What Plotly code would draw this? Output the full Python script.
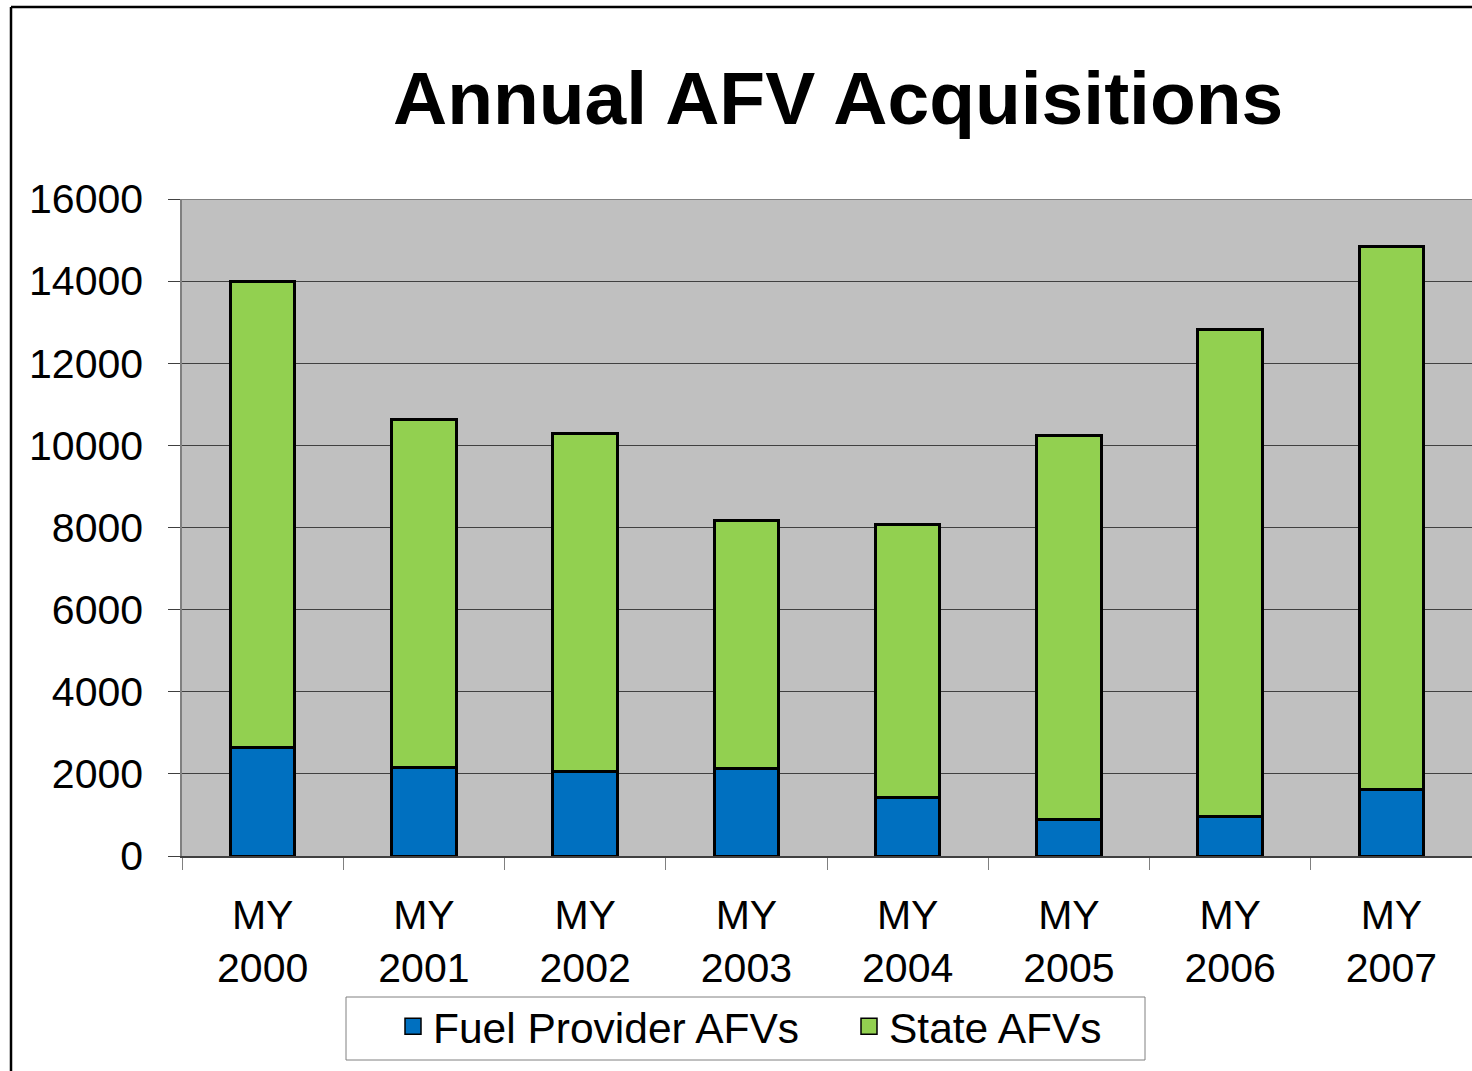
import plotly.graph_objects as go

categories = ["MY<br>2000", "MY<br>2001", "MY<br>2002", "MY<br>2003",
              "MY<br>2004", "MY<br>2005", "MY<br>2006", "MY<br>2007"]
fuel_provider = [2650, 2165, 2070, 2120, 1430, 890, 965, 1620]
state_afvs = [11340, 8455, 8220, 6060, 6650, 9340, 11845, 13220]
y_ticks = [0, 2000, 4000, 6000, 8000, 10000, 12000, 14000, 16000]

FONT = "Liberation Sans, Arial, sans-serif"
BLUE = "#0070C0"
GREEN = "#92D050"

fig = go.Figure()
fig.add_trace(go.Bar(x=categories, y=fuel_provider, name="Fuel Provider AFVs",
                     marker=dict(color=BLUE, line=dict(color="black", width=3)),
                     width=0.4, showlegend=False))
fig.add_trace(go.Bar(x=categories, y=state_afvs, name="State AFVs",
                     marker=dict(color=GREEN, line=dict(color="black", width=3)),
                     width=0.4, showlegend=False))
# legend entries with larger square symbols
for nm, col in [("Fuel Provider AFVs", BLUE), ("State AFVs", GREEN)]:
    fig.add_trace(go.Scatter(x=[None], y=[None], mode="markers", name=nm,
                             marker=dict(symbol="square", size=16, color=col,
                                         line=dict(color="black", width=1.5))))

W, H = 1472, 1071
L, R, T, B = 182, 0, 199, 215
pw = W - L - R
ph = H - T - B

def px_x(x):
    return (x - L) / pw

def px_y(y):
    return (H - B - y) / ph

fig.update_layout(
    barmode="stack",
    width=W, height=H,
    margin=dict(l=L, r=R, t=T, b=B, pad=0),
    paper_bgcolor="white",
    plot_bgcolor="#C0C0C0",
    font=dict(family=FONT, color="black"),
    showlegend=True,
    legend=dict(orientation="h", x=px_x(393), xanchor="left", y=px_y(992), yanchor="top",
                font=dict(size=42.5, family=FONT), bgcolor="rgba(0,0,0,0)",
                borderwidth=0, traceorder="normal", itemwidth=30,
                entrywidth=411, entrywidthmode="pixels"),
    xaxis=dict(type="category", tickson="boundaries", ticks="outside", ticklen=12,
               tickcolor="#808080", tickwidth=1, showline=True, linecolor="#404040",
               linewidth=1.5, tickfont=dict(size=41, family=FONT), showgrid=False,
               ticklabelstandoff=22),
    yaxis=dict(range=[0, 16000], tickvals=y_ticks, ticktext=[str(v) for v in y_ticks],
               ticks="outside", ticklen=12, tickcolor="#404040", showline=True,
               linecolor="#808080", linewidth=1.5, gridcolor="#404040", gridwidth=1,
               tickfont=dict(size=41, family=FONT), zeroline=False,
               ticklabelstandoff=17),
    bargap=0.6,
    annotations=[dict(text="<b>Annual AFV Acquisitions</b>", x=px_x(838), y=px_y(98),
                      xref="paper", yref="paper", xanchor="center", yanchor="middle",
                      showarrow=False, font=dict(size=75, family=FONT, color="black"))],
    shapes=[
        dict(type="line", xref="paper", yref="paper", x0=px_x(11), x1=px_x(11),
             y0=px_y(1100), y1=px_y(7), line=dict(color="black", width=2.5)),
        dict(type="line", xref="paper", yref="paper", x0=px_x(11), x1=px_x(1500),
             y0=px_y(7), y1=px_y(7), line=dict(color="black", width=2.5)),
        dict(type="line", xref="paper", yref="y", x0=0, x1=1, y0=16000, y1=16000,
             line=dict(color="#808080", width=2)),
        dict(type="rect", xref="paper", yref="paper", x0=px_x(346), x1=px_x(1145),
             y0=px_y(1060), y1=px_y(997), fillcolor="white",
             line=dict(color="#808080", width=1)),
    ],
)

fig.write_html("out.html",
               config={"displayModeBar": False},
               post_script="document.body.style.margin='0';"
                           "document.body.style.overflow='hidden';")
